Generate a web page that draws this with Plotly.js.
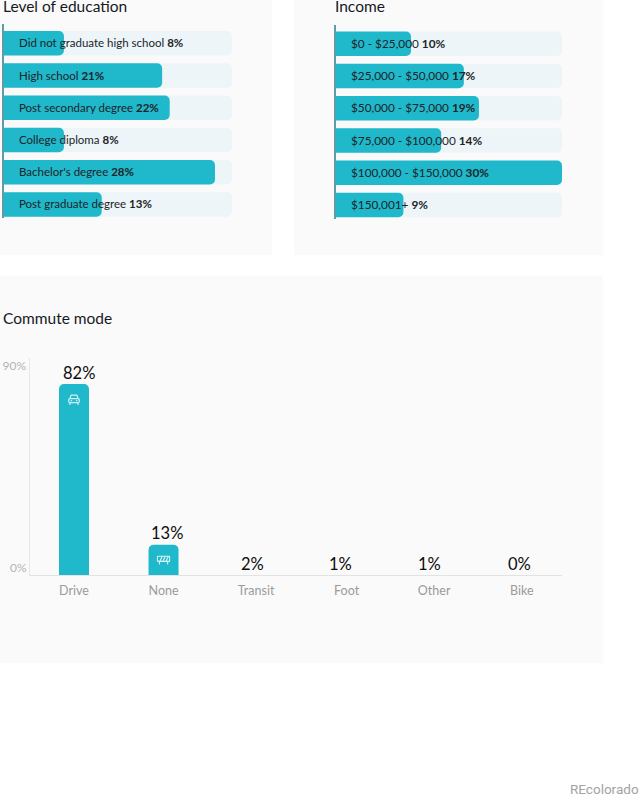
<!DOCTYPE html>
<html>
<head>
<meta charset="utf-8">
<script src="https://cdn.plot.ly/plotly-3.0.1.min.js"></script>
<style>html,body{margin:0;padding:0;background:#fff}#c{width:640px;height:795px}</style>
</head>
<body>
<div id="c"></div>
<script>
const educationLabels = ["Did not graduate high school","High school","Post secondary degree","College diploma","Bachelor's degree","Post graduate degree"];
const educationValues = [8,21,22,8,28,13];
const incomeLabels = ["$0 - $25,000","$25,000 - $50,000","$50,000 - $75,000","$75,000 - $100,000","$100,000 - $150,000","$150,001+"];
const incomeValues = [10,17,19,14,30,9];
const commuteLabels = ["Drive","None","Transit","Foot","Other","Bike"];
const commuteValues = [82,13,2,1,1,0];
// the reference draws columns only for the two largest modes
const commuteDrawn = [82,13,null,null,null,null];
const commuteLabelBase = [82,13,0,0,0,0];
const commuteTickNudge = [0,0,3,4,2,0];
const commutePctNudge = [5,3,-1,-2,-3,-2];
const educationTrack = 30.25, incomeTrack = 30;

const W=640,H=795, TEAL='#20b8cb', TRACK='#edf5f8', PANEL='#fafafa', INK='#1c2428';
const px=v=>v/W, py=v=>1-v/H;
const idx=a=>a.map((_,i)=>i);

function hbar(values, color, xa, ya){
  return {type:'bar',orientation:'h',x:values,y:idx(values),xaxis:xa,yaxis:ya,width:0.76,
     marker:{color:color,cornerradius:5},hoverinfo:'skip',showlegend:false};
}
// tracks sit on the lower-numbered axes so that they are painted first
const data=[
  hbar(educationValues.map(()=>educationTrack),TRACK,'x','y'),
  hbar(incomeValues.map(()=>incomeTrack),TRACK,'x2','y2'),
  hbar(educationValues,TEAL,'x3','y3'),
  hbar(incomeValues,TEAL,'x4','y4'),
  {type:'bar',x:idx(commuteValues),y:commuteDrawn,xaxis:'x5',yaxis:'y5',width:0.335,
   marker:{color:TEAL,cornerradius:5},hoverinfo:'skip',showlegend:false}
];

const font='Lato, sans-serif';
const bare={showarrow:false,borderpad:0,borderwidth:0};
function rowNotes(labels,values,xa,ya,size){
  return labels.map((l,i)=>({...bare,xref:xa,yref:ya,x:0,y:i,xanchor:'left',yanchor:'middle',xshift:15.5,yshift:0.5,
    text:l+' <b>'+values[i]+'%</b>',font:{family:font,size:size,color:INK}}));
}
function title(t,x,y){
  return {...bare,xref:'paper',yref:'paper',x:px(x),y:py(y),xanchor:'left',yanchor:'middle',
    text:t,font:{family:font,size:15.5,color:'#15191d'}};
}
const carSvg='<svg xmlns="http://www.w3.org/2000/svg" viewBox="0 0 24 24" fill="none" stroke="#cdeff4" stroke-width="2.2" stroke-linejoin="round" stroke-linecap="round"><path d="M5 11l2-6h10l2 6"/><rect x="3" y="11" width="18" height="7" rx="2"/><path d="M5 18v3M19 18v3M7 14.5h1M16 14.5h1"/></svg>';
const barrierSvg='<svg xmlns="http://www.w3.org/2000/svg" viewBox="0 0 28 20" fill="none" stroke="#d8f4f7" stroke-width="2.2" stroke-linecap="round"><rect x="2" y="3" width="24" height="10" rx="1.5"/><path d="M7 12l4-8M13 12l4-8M19 12l4-8M6 13v5M22 13v5"/></svg>';
const uri=s=>'data:image/svg+xml;utf8,'+encodeURIComponent(s);

const plainAxis={showgrid:false,zeroline:false,showticklabels:false,ticks:'',fixedrange:true};
const rowRange=[5.42,-0.6];
const eduX={...plainAxis,domain:[px(3.5),px(232)],range:[0,educationTrack]};
const eduY={...plainAxis,domain:[py(218),py(24)],range:rowRange};
const incX={...plainAxis,domain:[px(335.5),px(562)],range:[0,incomeTrack]};
const incY={...plainAxis,domain:[py(218.5),py(24.5)],range:rowRange};
const rule={showline:true,linecolor:'#5f9ca8',linewidth:1.5};
const layout={
  width:W,height:H,margin:{l:0,r:0,t:0,b:0},autosize:false,
  paper_bgcolor:'#ffffff',plot_bgcolor:'rgba(0,0,0,0)',
  showlegend:false,
  xaxis:{...eduX,anchor:'y'},yaxis:{...eduY,anchor:'x'},
  xaxis2:{...incX,anchor:'y2'},yaxis2:{...incY,anchor:'x2'},
  xaxis3:{...eduX,anchor:'y3'},yaxis3:{...eduY,anchor:'x3',...rule},
  xaxis4:{...incX,anchor:'y4'},yaxis4:{...incY,anchor:'x4',...rule},
  xaxis5:{showgrid:false,zeroline:false,fixedrange:true,domain:[px(29.5),px(562)],range:[-0.497,5.45],anchor:'y5',
    tickmode:'array',tickvals:commuteLabels.map((_,i)=>i+commuteTickNudge[i]/89.4),ticktext:commuteLabels,ticks:'',ticklen:0,
    ticklabelstandoff:4,showline:true,linecolor:'#e2e2e2',linewidth:1,tickfont:{family:font,size:12.5,color:'#9a9a9a'}},
  yaxis5:{showgrid:false,zeroline:false,fixedrange:true,domain:[py(575),py(358)],range:[0,93.2],anchor:'x5',
    tickmode:'array',tickvals:[90],ticktext:['90%'],ticks:'',showline:true,linecolor:'#e8e8e8',linewidth:1,
    tickfont:{family:font,size:12,color:'#b4b4b4'}},
  shapes:[[0,0,272,255],[294,0,603,255],[0,276,603,663]].map(r=>({type:'rect',xref:'paper',yref:'paper',layer:'below',
    x0:px(r[0]),y0:py(r[1]),x1:px(r[2]),y1:py(r[3]),fillcolor:PANEL,line:{width:0}})),
  annotations:[
    title('Level of education',3,6),title('Income',335,6),title('Commute mode',3,318),
    ...rowNotes(educationLabels,educationValues,'x3','y3',11.5),
    ...rowNotes(incomeLabels,incomeValues,'x4','y4',11.8),
    ...commuteLabels.map((_,i)=>({...bare,xref:'x5',yref:'y5',x:i,y:commuteLabelBase[i],xanchor:'center',yanchor:'middle',yshift:11.5,xshift:commutePctNudge[i],
      text:commuteValues[i]+'%',font:{family:font,size:16.5,color:'#0c0c0c'}})),
    {...bare,xref:'paper',yref:'y5',x:px(27),y:0,xanchor:'right',yanchor:'middle',yshift:8,text:'0%',
      font:{family:font,size:12,color:'#b4b4b4'}},
    {...bare,xref:'paper',yref:'paper',x:px(639),y:py(788.5),xanchor:'right',yanchor:'middle',text:'REcolorado',
      font:{family:'Roboto, sans-serif',size:13.5,color:'#a3a3a3'}}
  ],
  images:[
    {source:uri(carSvg),xref:'x5',yref:'y5',x:0,y:75.5,sizex:0.16,sizey:6,xanchor:'center',yanchor:'middle',layer:'above'},
    {source:uri(barrierSvg),xref:'x5',yref:'y5',x:1,y:6.5,sizex:0.16,sizey:5,xanchor:'center',yanchor:'middle',layer:'above'}
  ]
};
Plotly.newPlot('c',data,layout,{displayModeBar:false,staticPlot:true});
</script>
</body>
</html>
